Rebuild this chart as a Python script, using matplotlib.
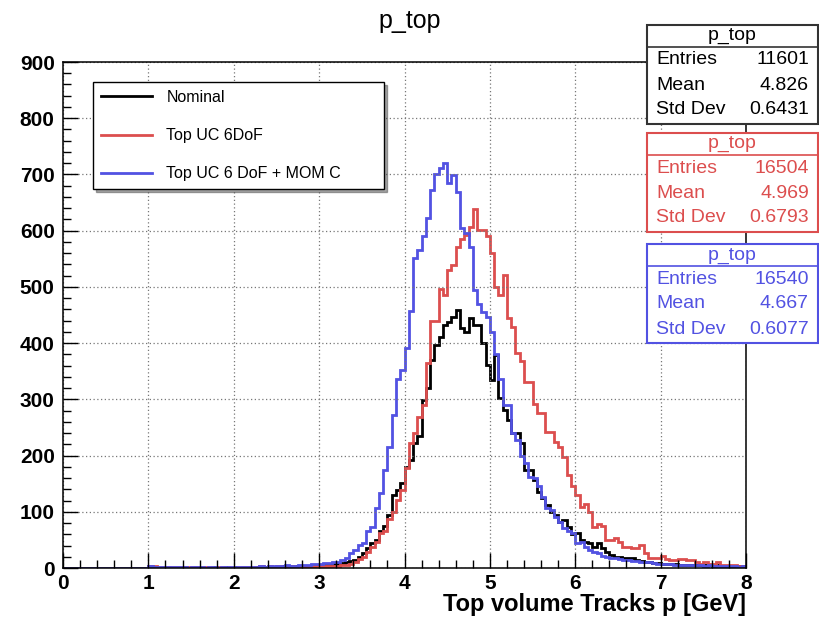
import numpy as np
import matplotlib
matplotlib.use("Agg")
import matplotlib.pyplot as plt
from matplotlib.patches import Rectangle
from matplotlib.ticker import MultipleLocator

plt.rcParams["font.family"] = ["Liberation Sans", "DejaVu Sans"]

# histogram binning: 160 bins between 0 and 8 GeV
edges = np.linspace(0, 8, 161)

nominal = [0] * 20 + [
    3, 1, 0, 0, 1, 0, 0, 0, 1, 0, 0, 1, 0, 0, 0, 1, 0, 0, 1, 0,
    1, 0, 1, 1, 0, 1, 2, 1, 2, 1, 2, 3, 2, 3, 4, 3, 3, 4, 4, 5,
    5, 6, 5, 7, 8, 9, 11, 12, 14, 20, 26, 35, 44, 50, 65, 75, 95, 130, 139, 151,
    180, 192, 222, 234, 299, 320, 370, 397, 411, 432, 438, 447, 459, 426, 420, 444, 432, 432, 400, 361,
    334, 379, 302, 281, 263, 240, 240, 222, 175, 174, 157, 136, 124, 112, 100, 94, 82, 85, 73, 60,
    63, 50, 47, 44, 38, 44, 35, 28, 23, 20, 20, 18, 17, 17, 15, 12, 11, 10, 9, 9,
    8, 8, 7, 7, 6, 6, 6, 5, 5, 5, 5, 5, 4, 5, 4, 4, 4, 3, 3, 3]

top_uc = [0] * 20 + [
    4, 3, 1, 2, 1, 2, 1, 2, 1, 1, 1, 1, 2, 1, 1, 0, 1, 1, 0, 1,
    0, 1, 1, 2, 1, 2, 3, 2, 3, 2, 3, 2, 3, 3, 2, 3, 4, 3, 3, 4,
    3, 3, 4, 4, 4, 5, 5, 8, 11, 16, 20, 29, 38, 47, 62, 65, 88, 100, 121, 138,
    177, 222, 240, 269, 290, 364, 440, 440, 497, 486, 530, 539, 571, 586, 592, 607, 638, 601, 601, 590,
    560, 500, 486, 521, 444, 429, 382, 369, 331, 331, 292, 275, 275, 242, 242, 225, 216, 198, 165, 145,
    130, 109, 114, 100, 73, 78, 75, 50, 50, 53, 47, 38, 38, 35, 35, 41, 26, 17, 17, 17,
    22, 16, 14, 14, 16, 16, 14, 14, 11, 8, 10, 8, 8, 10, 6, 6, 5, 5, 4, 4]

top_uc_mom = [0] * 20 + [
    4, 2, 1, 1, 1, 2, 1, 1, 1, 0, 1, 1, 1, 0, 1, 1, 0, 1, 1, 1,
    1, 1, 1, 2, 2, 2, 3, 2, 3, 4, 3, 4, 5, 4, 4, 6, 5, 6, 7, 7,
    8, 9, 9, 10, 11, 14, 18, 26, 32, 41, 44, 65, 73, 106, 133, 174, 216, 272, 337, 352,
    391, 458, 551, 566, 591, 622, 672, 701, 711, 721, 684, 699, 668, 605, 595, 571, 494, 470, 456, 447,
    420, 380, 337, 290, 290, 240, 228, 200, 187, 162, 160, 145, 127, 106, 103, 91, 82, 71, 65, 62,
    44, 47, 38, 32, 28, 26, 22, 20, 18, 17, 16, 14, 14, 13, 12, 11, 11, 10, 9, 8,
    8, 7, 7, 6, 6, 6, 5, 6, 5, 5, 4, 5, 4, 4, 3, 4, 3, 3, 2, 3]

labels = ["Nominal", "Top UC 6DoF", "Top UC 6 DoF + MOM C"]
colors = ["#000000", "#dc4e4e", "#5252e2"]
entries = [11601, 16504, 16540]
means = ["4.826", "4.969", "4.667"]
stds = ["0.6431", "0.6793", "0.6077"]

W, H = 819, 619
fig = plt.figure(figsize=(W / 100, H / 100), dpi=100)
ax = fig.add_axes([63 / W, 51 / H, 683 / W, 506 / H])

for vals, c, lab in zip([nominal, top_uc, top_uc_mom], colors, labels):
    ax.stairs(vals, edges, baseline=None, color=c, lw=2, label=lab)

ax.set_xlim(0, 8)
ax.set_ylim(0, 900)
ax.xaxis.set_major_locator(MultipleLocator(1))
ax.xaxis.set_minor_locator(MultipleLocator(0.2))
ax.yaxis.set_major_locator(MultipleLocator(100))
ax.yaxis.set_minor_locator(MultipleLocator(20))
ax.tick_params(which="both", direction="in", top=False, right=False)
ax.tick_params(which="major", length=11, width=1)
ax.tick_params(which="minor", length=6, width=1)
ax.tick_params(axis="x", pad=4)
ax.tick_params(axis="y", pad=6)
for t in ax.get_xticklabels() + ax.get_yticklabels():
    t.set_fontsize(15)
    t.set_fontweight("bold")
ax.grid(True, which="major", color="#777777", linestyle=(0, (1, 2)), lw=0.9)
for s in ax.spines.values():
    s.set_linewidth(1.1)

leg = ax.legend(handles=[plt.Line2D([], [], color=c, lw=2) for c in colors], labels=labels,
                loc="upper left", bbox_to_anchor=(0.0439, 0.761, 0.426, 0.1995), mode="expand",
                borderaxespad=0, fontsize=11.5, labelspacing=1.45, handlelength=3.2,
                handletextpad=0.9, borderpad=0.5, fancybox=False, shadow=True,
                edgecolor="black", framealpha=1)
leg.get_frame().set_linewidth(1)

fig.text(410 / W, 1 - 21 / H, "p_top", ha="center", va="center", fontsize=18)
fig.text(746 / W, 1 - 605 / H, "Top volume Tracks p [GeV]", ha="right", va="center",
         fontsize=17, weight="bold")

# stat boxes
box_tops = [25, 133, 244]
box_edge = ["#333333", colors[1], colors[2]]
x0, x1 = 647, 818
for top, c, ec, n, m, s in zip(box_tops, colors, box_edge, entries, means, stds):
    fig.add_artist(Rectangle((x0 / W, 1 - (top + 99) / H), (x1 - x0) / W, 99 / H,
                             transform=fig.transFigure, facecolor="white", edgecolor=ec, lw=1.5))
    fig.add_artist(plt.Line2D([x0 / W, x1 / W], [1 - (top + 22) / H] * 2,
                              transform=fig.transFigure, color=ec, lw=1.2))
    fig.text((x0 + x1) / 2 / W, 1 - (top + 11) / H, "p_top", ha="center", va="center",
             fontsize=14, color=c)
    for i, (name, val) in enumerate([("Entries", str(n)), ("Mean", m), ("Std Dev", s)]):
        yy = 1 - (top + 35 + 25 * i) / H
        fig.text(656 / W, yy, name, ha="left", va="center", fontsize=14, color=c)
        fig.text(809 / W, yy, val, ha="right", va="center", fontsize=14, color=c)

fig.savefig("out.png", dpi=100)
